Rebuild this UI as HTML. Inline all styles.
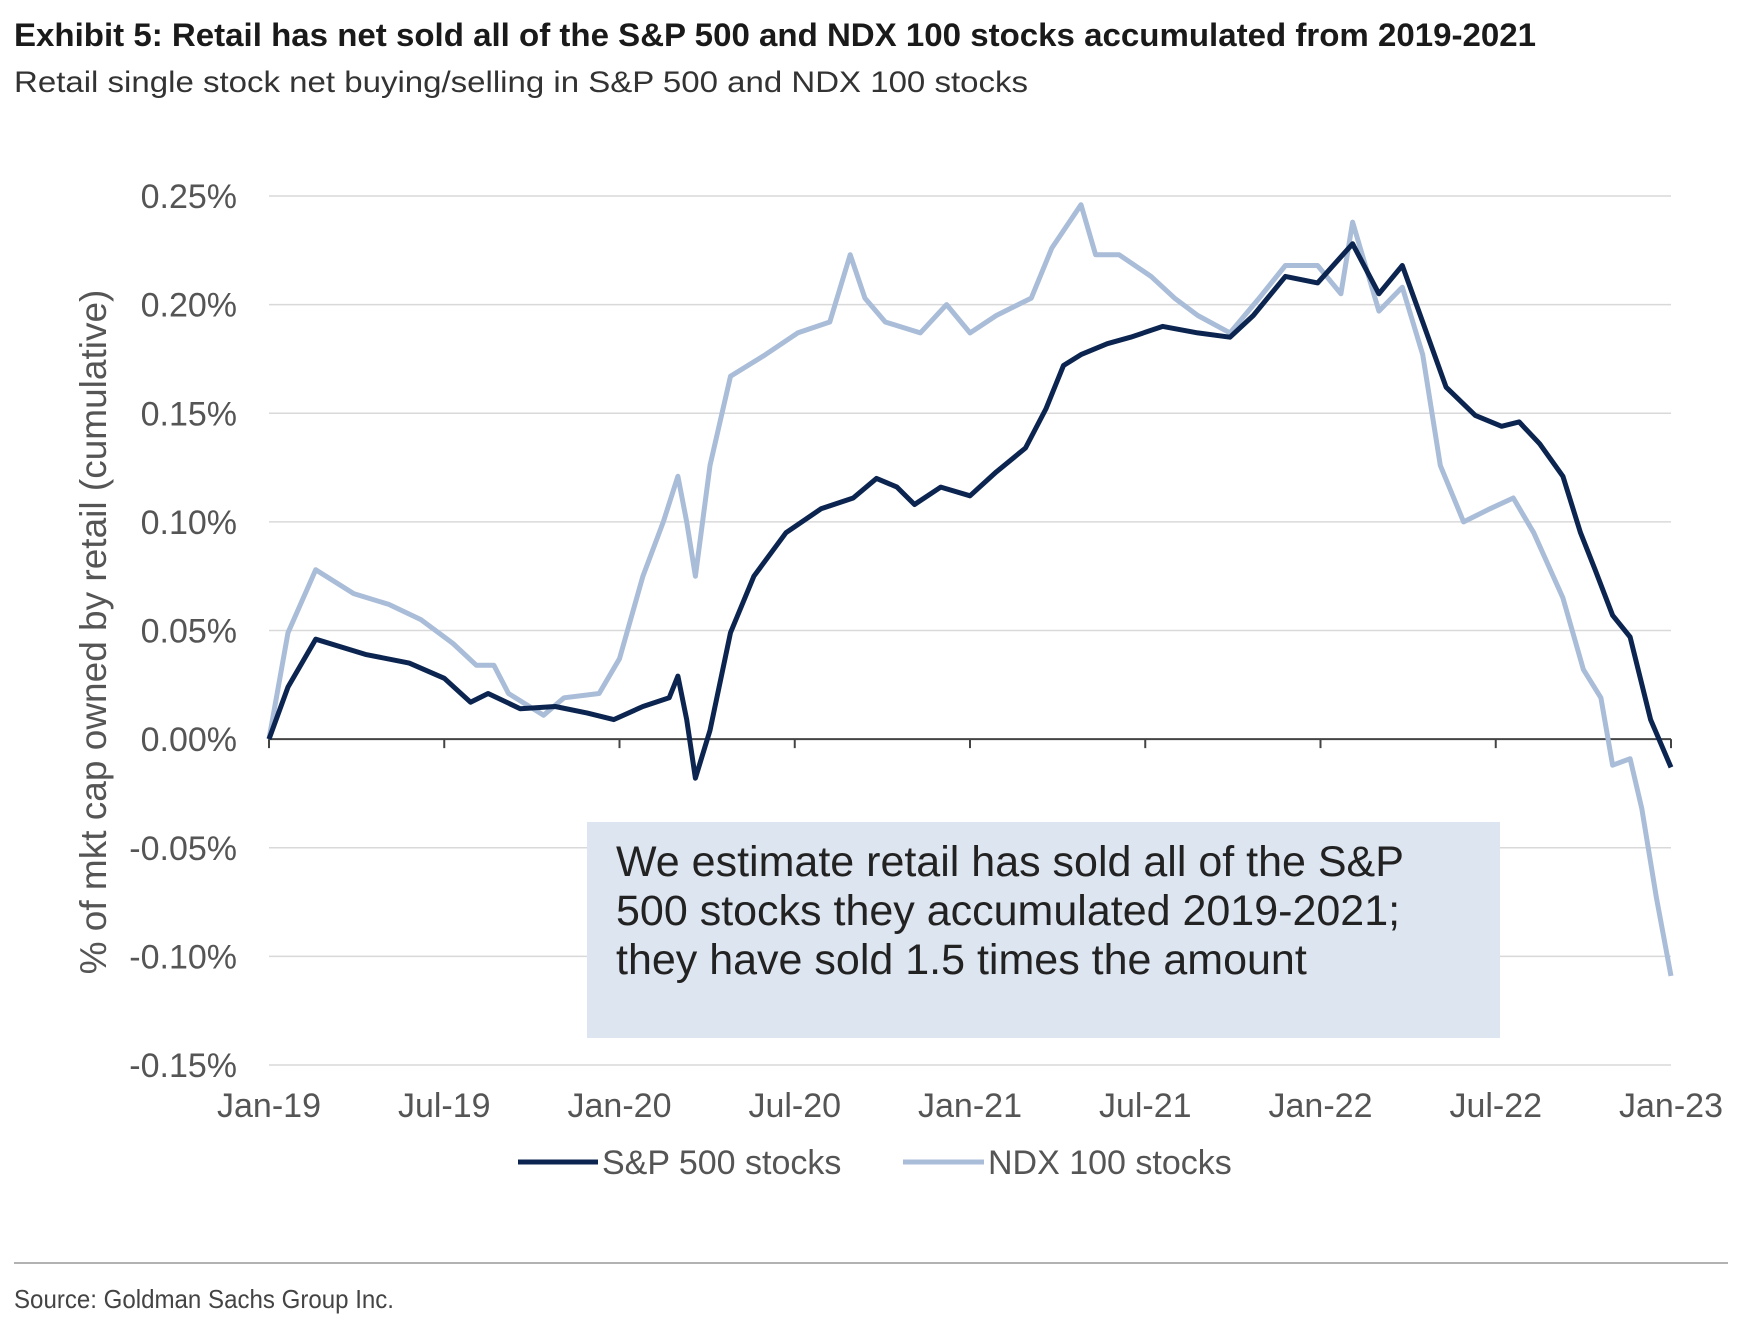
<!DOCTYPE html>
<html><head><meta charset="utf-8"><style>
html,body{margin:0;padding:0;background:#fff;}
svg{display:block;font-family:"Liberation Sans",sans-serif;}
</style></head><body>
<svg id="chart" width="1738" height="1332" viewBox="0 0 1738 1332" xmlns="http://www.w3.org/2000/svg">
<text x="14" y="46" font-size="32" font-weight="bold" fill="#1a1a1a" textLength="1522" lengthAdjust="spacingAndGlyphs">Exhibit 5: Retail has net sold all of the S&amp;P 500 and NDX 100 stocks accumulated from 2019-2021</text>
<text x="14" y="92" font-size="30" fill="#333" textLength="1014" lengthAdjust="spacingAndGlyphs">Retail single stock net buying/selling in S&amp;P 500 and NDX 100 stocks</text>
<g id="grid"></g>
<g id="yticks"></g>
<g id="xticks"></g>
<text transform="translate(106,632) rotate(-90)" text-anchor="middle" font-size="37" fill="#555">% of mkt cap owned by retail (cumulative)</text>
<rect x="587" y="822" width="913" height="216" fill="#dde5f0"/>
<g font-size="43" fill="#222">
<text x="616" y="876">We estimate retail has sold all of the S&amp;P</text>
<text x="616" y="925">500 stocks they accumulated 2019-2021;</text>
<text x="616" y="974">they have sold 1.5 times the amount</text>
</g>
<g id="series"></g>
<g font-size="34" fill="#555">
<line x1="518" y1="1162" x2="598" y2="1162" stroke="#0b2550" stroke-width="5"/>
<text x="602" y="1174">S&amp;P 500 stocks</text>
<line x1="903" y1="1162" x2="984" y2="1162" stroke="#a9bcd8" stroke-width="5"/>
<text x="988" y="1174">NDX 100 stocks</text>
</g>
<line x1="14" y1="1263" x2="1728" y2="1263" stroke="#999" stroke-width="1.5"/>
<text x="14" y="1308" font-size="26" fill="#444" textLength="380" lengthAdjust="spacingAndGlyphs">Source: Goldman Sachs Group Inc.</text>
</svg>
<script>
const yTicks=[0.25,0.20,0.15,0.10,0.05,0.00,-0.05,-0.10,-0.15];
const yTickLabels=["0.25%","0.20%","0.15%","0.10%","0.05%","0.00%","-0.05%","-0.10%","-0.15%"];
const xTickMonths=[0,6,12,18,24,30,36,42,48];
const xTickLabels=["Jan-19","Jul-19","Jan-20","Jul-20","Jan-21","Jul-21","Jan-22","Jul-22","Jan-23"];
const spMonths=[0,0.65,1.6,3.3,4.8,6.0,6.9,7.5,8.6,9.8,10.9,11.8,12.8,13.7,14.0,14.3,14.6,15.1,15.8,16.6,17.7,18.9,20.0,20.8,21.5,22.1,23.0,24.0,24.9,25.9,26.6,27.2,27.8,28.7,29.5,30.6,31.8,32.9,33.7,34.8,35.9,37.1,38.0,38.8,39.5,40.3,41.3,42.2,42.8,43.5,44.3,44.9,45.4,46.0,46.6,47.3,48];
const spValues=[0,0.024,0.046,0.039,0.035,0.028,0.017,0.021,0.014,0.015,0.012,0.009,0.015,0.019,0.029,0.009,-0.018,0.004,0.049,0.075,0.095,0.106,0.111,0.12,0.116,0.108,0.116,0.112,0.123,0.134,0.152,0.172,0.177,0.182,0.185,0.19,0.187,0.185,0.195,0.213,0.21,0.228,0.205,0.218,0.192,0.162,0.149,0.144,0.146,0.136,0.121,0.095,0.078,0.057,0.047,0.009,-0.013];
const ndxMonths=[0,0.65,1.6,2.9,4.1,5.2,6.3,7.1,7.7,8.2,9.4,10.1,11.3,12.0,12.8,13.5,14.0,14.3,14.6,15.1,15.8,17.0,18.1,19.2,19.9,20.4,21.1,22.3,23.2,24.0,24.9,26.1,26.8,27.8,28.3,29.1,30.2,31.0,31.8,32.9,33.9,34.8,35.9,36.7,37.1,38.0,38.8,39.5,40.1,40.9,41.8,42.6,43.3,44.3,45.0,45.6,46.0,46.6,47.0,47.5,48];
const ndxValues=[0,0.049,0.078,0.067,0.062,0.055,0.044,0.034,0.034,0.021,0.011,0.019,0.021,0.037,0.075,0.1,0.121,0.1,0.075,0.126,0.167,0.177,0.187,0.192,0.223,0.203,0.192,0.187,0.2,0.187,0.195,0.203,0.226,0.246,0.223,0.223,0.213,0.203,0.195,0.187,0.203,0.218,0.218,0.205,0.238,0.197,0.208,0.177,0.126,0.1,0.106,0.111,0.095,0.065,0.032,0.019,-0.012,-0.009,-0.032,-0.073,-0.109];

const NS="http://www.w3.org/2000/svg";
const X0=269,X1=1671,Ytop=196,Ybot=1065;
const xS=m=>X0+(X1-X0)*m/48;
const yS=v=>Ytop+(0.25-v)/0.40*(Ybot-Ytop);
function mk(tag,attrs,parent){const e=document.createElementNS(NS,tag);for(const k in attrs)e.setAttribute(k,attrs[k]);parent.appendChild(e);return e;}
const grid=document.getElementById('grid'),yt=document.getElementById('yticks'),xt=document.getElementById('xticks'),ser=document.getElementById('series');
yTicks.forEach((v,i)=>{
  if(v!==0){const l=mk('line',{x1:X0,x2:X1,y1:yS(v),y2:yS(v),stroke:'#d9d9d9','stroke-width':1.5},grid);
  
  }
  const t=mk('text',{x:237,y:yS(v)+12,'text-anchor':'end','font-size':34,fill:'#555'},yt);
  t.textContent=yTickLabels[i];
  
  
});
const ax=mk('line',{x1:X0,x2:X1,y1:yS(0),y2:yS(0),stroke:'#444','stroke-width':2},grid);


xTickMonths.forEach((m,i)=>{
  const tk=mk('line',{x1:xS(m),x2:xS(m),y1:yS(0),y2:yS(0)+9,stroke:'#444','stroke-width':2},xt);
  
  
  const t=mk('text',{x:xS(m),y:1117,'text-anchor':'middle','font-size':34,fill:'#555'},xt);
  t.textContent=xTickLabels[i];
  
  
});
function line(ms,vs){return ms.map((m,i)=>(i?'L':'M')+xS(m).toFixed(1)+','+yS(vs[i]).toFixed(1)).join(' ');}
const p2=mk('path',{d:line(ndxMonths,ndxValues),fill:'none',stroke:'#a9bcd8','stroke-width':5,'stroke-linejoin':'round'},ser);


const p1=mk('path',{d:line(spMonths,spValues),fill:'none',stroke:'#0b2550','stroke-width':5,'stroke-linejoin':'round'},ser);


</script>
</body></html>
